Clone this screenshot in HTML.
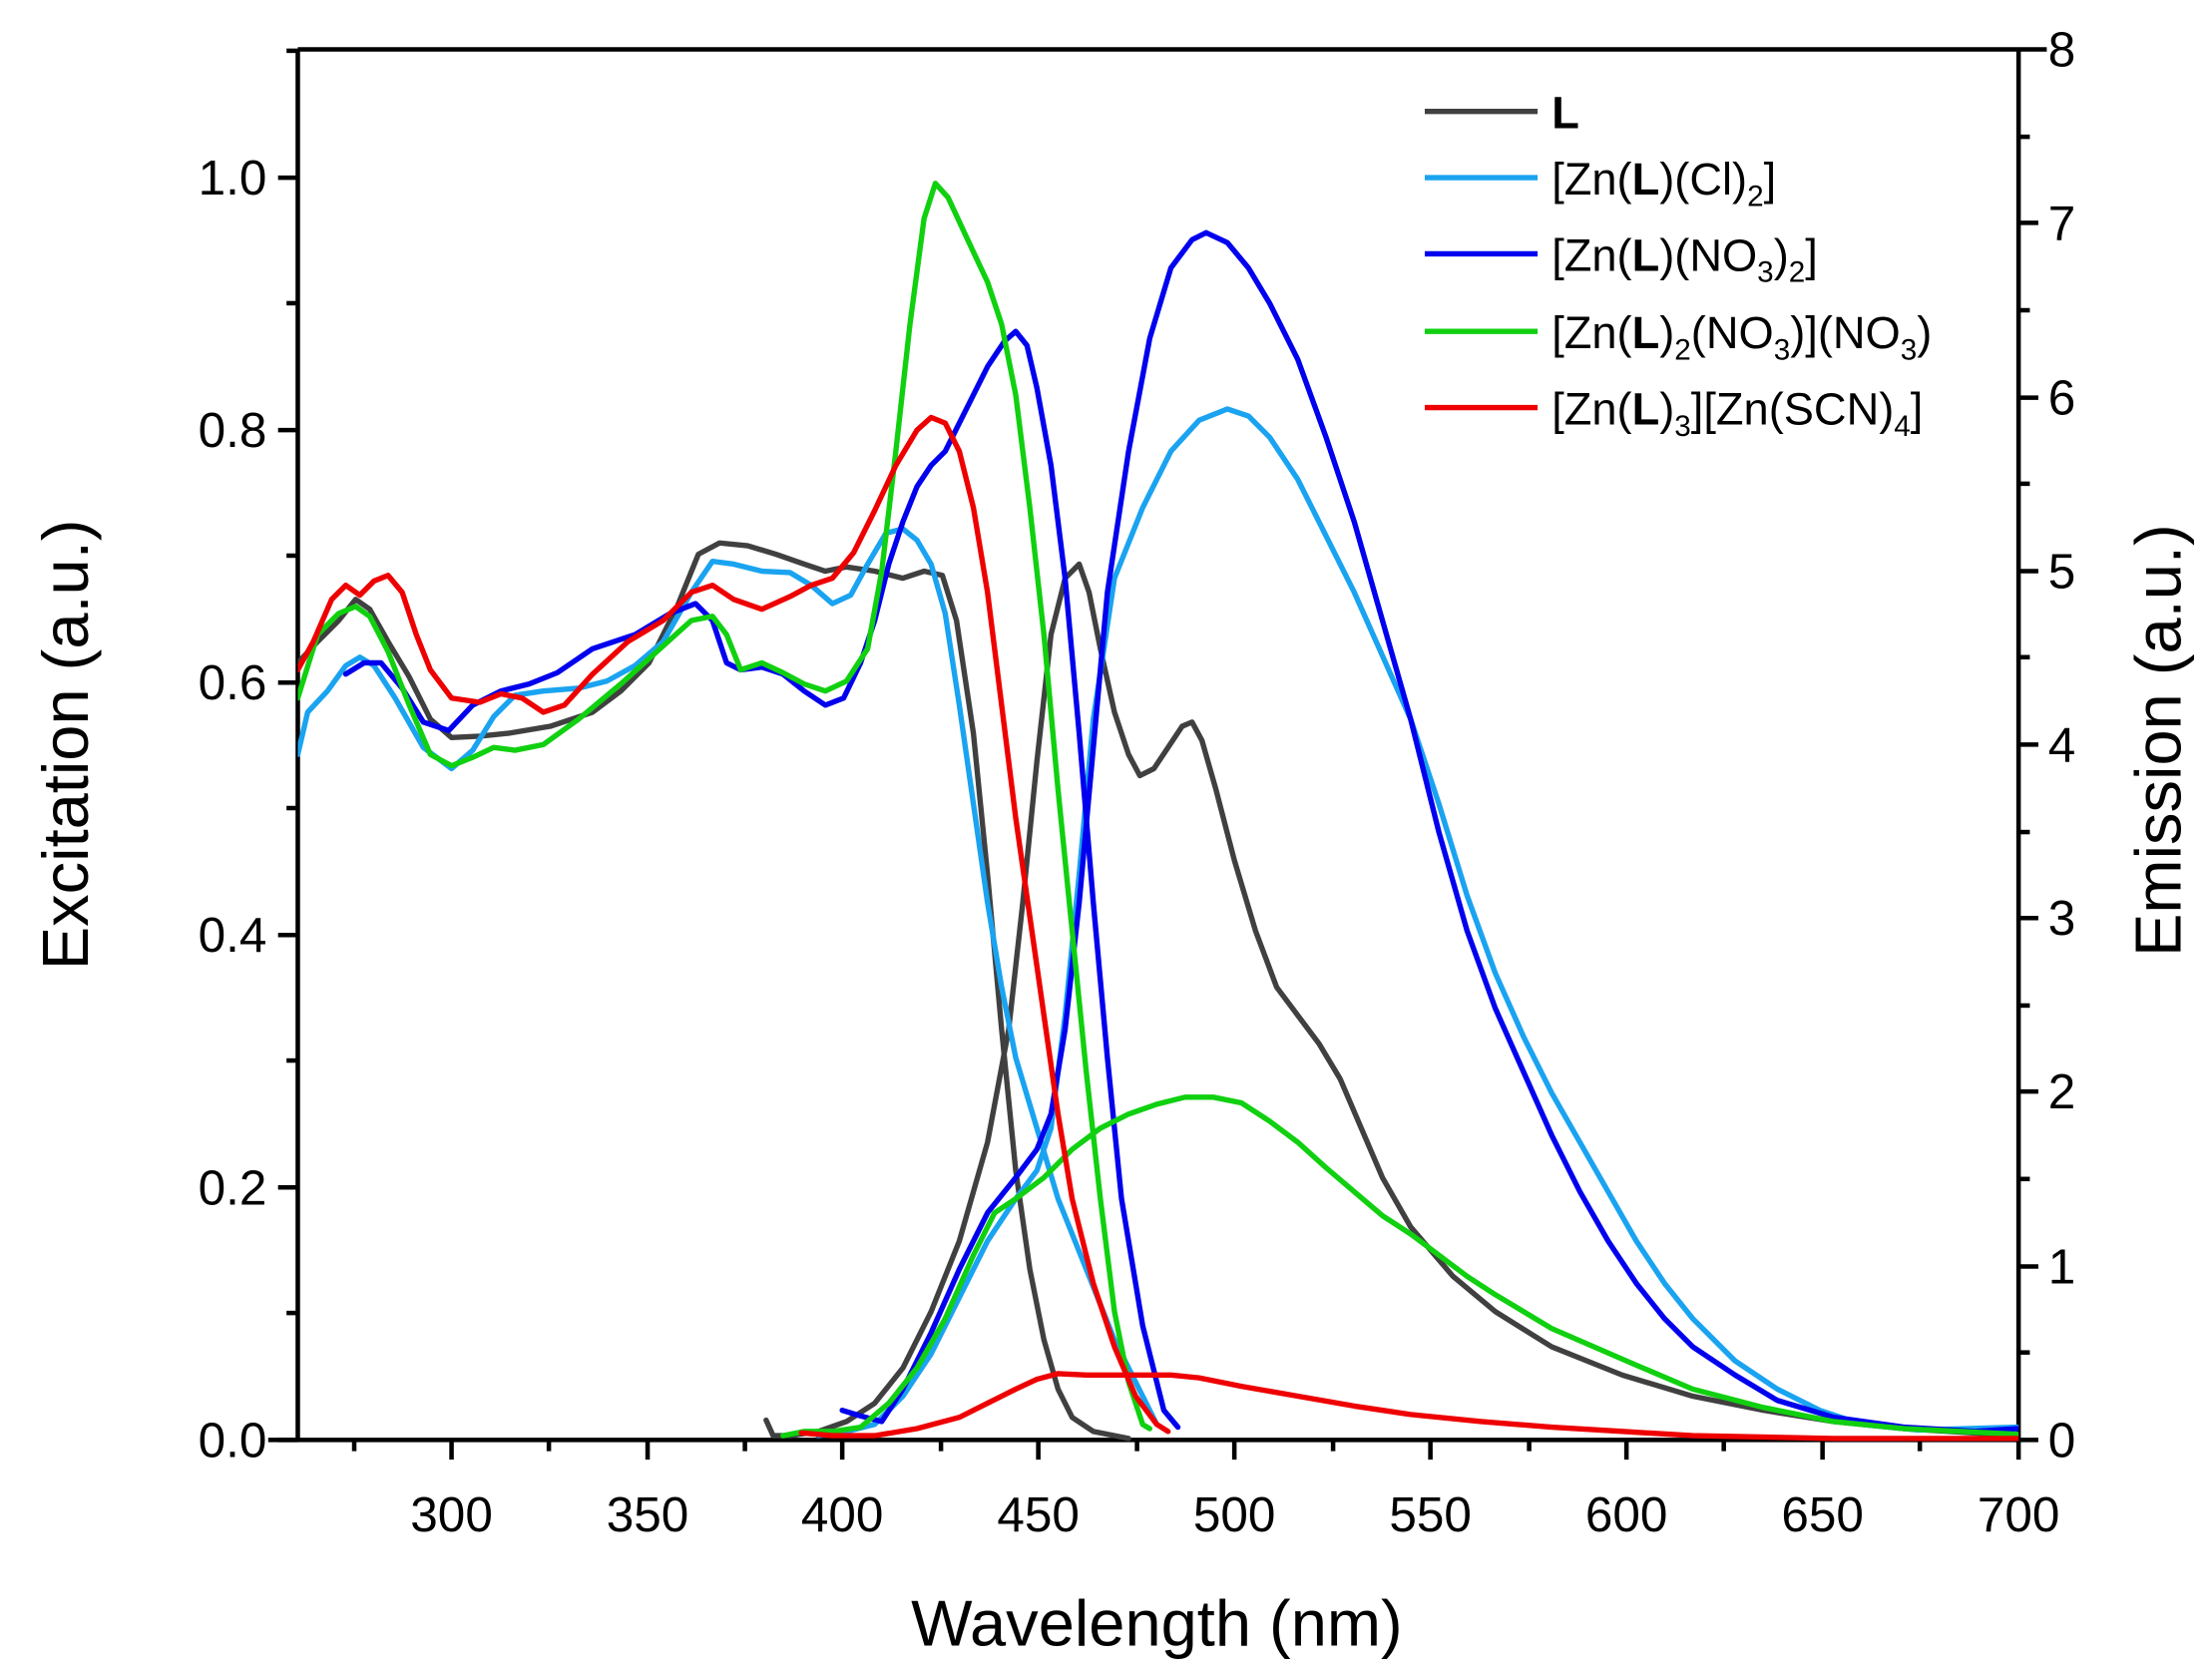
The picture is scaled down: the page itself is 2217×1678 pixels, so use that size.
<!DOCTYPE html>
<html><head><meta charset="utf-8"><style>
html,body{margin:0;padding:0;background:#fff;}
svg{display:block;}
text{font-family:"Liberation Sans",Arial,sans-serif;fill:#000;}
</style></head><body>
<svg width="2217" height="1678" viewBox="0 0 1568 1187" xmlns="http://www.w3.org/2000/svg">
<defs><clipPath id="c"><rect x="211" y="30" width="1220" height="992"/></clipPath></defs>
<g fill="none" stroke="#000" stroke-width="3.2">
<line x1="190" y1="1021" x2="1432" y2="1021"/>
<line x1="211" y1="35" x2="211" y2="1021"/>
<line x1="211" y1="35" x2="1451" y2="35"/>
<line x1="1431" y1="35" x2="1431" y2="1021"/>
<line x1="320" y1="1021" x2="320" y2="1035"/><line x1="459" y1="1021" x2="459" y2="1035"/><line x1="597" y1="1021" x2="597" y2="1035"/><line x1="736" y1="1021" x2="736" y2="1035"/><line x1="875" y1="1021" x2="875" y2="1035"/><line x1="1014" y1="1021" x2="1014" y2="1035"/><line x1="1153" y1="1021" x2="1153" y2="1035"/><line x1="1292" y1="1021" x2="1292" y2="1035"/><line x1="1431" y1="1021" x2="1431" y2="1035"/>
<line x1="251" y1="1021" x2="251" y2="1029"/><line x1="389" y1="1021" x2="389" y2="1029"/><line x1="528" y1="1021" x2="528" y2="1029"/><line x1="667" y1="1021" x2="667" y2="1029"/><line x1="806" y1="1021" x2="806" y2="1029"/><line x1="945" y1="1021" x2="945" y2="1029"/><line x1="1084" y1="1021" x2="1084" y2="1029"/><line x1="1222" y1="1021" x2="1222" y2="1029"/><line x1="1361" y1="1021" x2="1361" y2="1029"/>
<line x1="197" y1="1021" x2="211" y2="1021"/><line x1="197" y1="842" x2="211" y2="842"/><line x1="197" y1="663" x2="211" y2="663"/><line x1="197" y1="484" x2="211" y2="484"/><line x1="197" y1="305" x2="211" y2="305"/><line x1="197" y1="126" x2="211" y2="126"/>
<line x1="203" y1="931" x2="211" y2="931"/><line x1="203" y1="752" x2="211" y2="752"/><line x1="203" y1="573" x2="211" y2="573"/><line x1="203" y1="394" x2="211" y2="394"/><line x1="203" y1="215" x2="211" y2="215"/><line x1="203" y1="36" x2="211" y2="36"/>
<line x1="1431" y1="1021" x2="1445" y2="1021"/><line x1="1431" y1="898" x2="1445" y2="898"/><line x1="1431" y1="774" x2="1445" y2="774"/><line x1="1431" y1="651" x2="1445" y2="651"/><line x1="1431" y1="528" x2="1445" y2="528"/><line x1="1431" y1="405" x2="1445" y2="405"/><line x1="1431" y1="282" x2="1445" y2="282"/><line x1="1431" y1="158" x2="1445" y2="158"/>
<line x1="1431" y1="959" x2="1439" y2="959"/><line x1="1431" y1="836" x2="1439" y2="836"/><line x1="1431" y1="713" x2="1439" y2="713"/><line x1="1431" y1="590" x2="1439" y2="590"/><line x1="1431" y1="466" x2="1439" y2="466"/><line x1="1431" y1="343" x2="1439" y2="343"/><line x1="1431" y1="220" x2="1439" y2="220"/><line x1="1431" y1="97" x2="1439" y2="97"/>
</g>
<g font-size="35" text-anchor="middle">
<text x="320" y="1086">300</text><text x="459" y="1086">350</text><text x="597" y="1086">400</text><text x="736" y="1086">450</text><text x="875" y="1086">500</text><text x="1014" y="1086">550</text><text x="1153" y="1086">600</text><text x="1292" y="1086">650</text><text x="1431" y="1086">700</text>
</g>
<g font-size="35" text-anchor="end">
<text x="189" y="1033">0.0</text><text x="189" y="854">0.2</text><text x="189" y="675">0.4</text><text x="189" y="496">0.6</text><text x="189" y="317">0.8</text><text x="189" y="138">1.0</text>
</g>
<g font-size="35">
<text x="1452" y="1033">0</text><text x="1452" y="910">1</text><text x="1452" y="786">2</text><text x="1452" y="663">3</text><text x="1452" y="540">4</text><text x="1452" y="417">5</text><text x="1452" y="294">6</text><text x="1452" y="170">7</text><text x="1452" y="47">8</text>
</g>
<text x="820" y="1167" font-size="46" text-anchor="middle">Wavelength (nm)</text>
<text transform="translate(62,528) rotate(-90)" font-size="46" text-anchor="middle">Excitation (a.u.)</text>
<text transform="translate(1546,525) rotate(-90)" font-size="46" text-anchor="middle">Emission (a.u.)</text>

<g clip-path="url(#c)" fill="none" stroke-width="3.8" stroke-linejoin="round" stroke-linecap="round">
<polyline stroke="#404040" points="211,470 225,455 240,440 252,425 262,432 275,455 290,480 305,510 320,523 340,522 360,520 390,515 420,505 440,490 460,470 480,430 495,393 510,385 530,387 550,393 570,400 585,405 600,402 620,405 640,410 655,405 668,408 678,440 690,520 700,620 710,730 720,830 730,900 740,950 750,985 760,1005 775,1015 800,1020"/>
<polyline stroke="#404040" points="543,1007 548,1018 560,1018 580,1015 600,1008 620,995 640,970 660,930 680,880 700,810 715,730 725,640 735,540 745,450 755,410 765,400 772,420 780,460 790,505 800,535 808,550 818,545 828,530 838,515 845,512 852,525 862,560 875,610 890,660 905,700 920,720 935,740 950,765 965,800 980,835 1000,870 1030,905 1060,930 1100,955 1150,975 1200,990 1250,1000 1300,1008 1350,1013 1430,1018"/>
<polyline stroke="#1aa3f0" points="211,535 218,505 232,490 245,472 255,466 265,472 280,495 300,530 320,545 335,532 350,508 365,493 385,490 410,488 430,483 450,472 470,455 490,420 505,398 520,400 540,405 560,406 575,415 590,428 603,422 615,400 628,378 640,375 650,383 660,400 670,435 680,500 690,570 700,640 710,700 720,750 735,800 750,850 770,900 790,950 810,990 820,1010"/>
<polyline stroke="#1aa3f0" points="580,1018 600,1015 620,1010 640,990 660,960 680,920 700,880 720,850 735,830 745,800 755,720 765,620 775,510 790,410 810,360 830,320 850,298 870,290 885,295 900,310 920,340 940,380 960,420 980,465 1000,510 1020,570 1040,635 1060,690 1080,735 1100,775 1120,810 1140,845 1160,880 1180,910 1200,935 1230,965 1260,985 1290,1000 1320,1010 1360,1014 1430,1012"/>
<polyline stroke="#0000ee" points="245,478 258,470 270,470 285,488 300,512 318,518 335,500 355,490 375,485 395,477 420,460 450,450 475,435 493,428 505,440 515,470 525,475 540,473 555,478 570,490 585,500 598,495 610,470 620,440 630,400 640,370 650,345 660,330 670,320 680,300 690,280 700,260 712,242 720,235 728,245 735,275 745,330 755,410 765,520 775,640 785,750 795,850 810,940 825,1000 835,1012"/>
<polyline stroke="#0000ee" points="597,1000 610,1004 625,1008 640,985 660,945 680,900 700,860 720,835 735,815 745,790 755,730 765,640 775,530 785,420 800,320 815,240 830,190 845,170 855,165 870,172 885,190 900,215 920,255 940,310 960,370 980,440 1000,510 1020,590 1040,660 1060,715 1080,760 1100,805 1120,845 1140,880 1160,910 1180,935 1200,955 1230,975 1260,993 1300,1005 1350,1012 1400,1015 1430,1013"/>
<polyline stroke="#10d010" points="211,495 225,450 240,435 252,430 262,437 275,462 290,500 305,535 320,543 335,537 350,530 365,532 385,528 410,510 440,485 470,458 490,440 505,437 515,450 525,475 540,470 555,477 570,485 585,490 600,483 615,460 625,405 635,320 645,230 655,155 663,130 672,140 685,168 700,200 710,230 720,280 730,360 740,450 750,560 760,660 770,760 780,850 790,930 800,980 810,1010 815,1013"/>
<polyline stroke="#10d010" points="555,1018 570,1015 590,1015 610,1012 630,995 650,970 670,935 690,890 705,860 720,850 740,835 760,815 780,800 800,790 820,783 840,778 860,778 880,782 900,795 920,810 940,828 960,845 980,862 1000,875 1020,890 1040,905 1060,918 1080,930 1100,942 1130,955 1160,968 1200,985 1250,998 1300,1008 1350,1013 1430,1017"/>
<polyline stroke="#ee0000" points="211,475 222,455 235,425 245,415 255,422 265,412 275,408 285,420 295,450 305,475 320,495 340,498 355,492 370,495 385,505 400,500 420,478 445,455 470,440 490,420 505,415 520,425 540,432 560,423 575,415 590,410 605,392 620,362 635,330 650,305 660,296 670,300 680,320 690,360 700,420 710,500 720,580 730,650 740,720 750,790 760,850 775,910 790,955 805,990 820,1010 828,1015"/>
<polyline stroke="#ee0000" points="568,1016 590,1018 620,1018 650,1013 680,1005 700,995 720,985 735,978 750,974 770,975 800,975 830,975 850,977 880,983 920,990 960,997 1000,1003 1050,1008 1100,1012 1150,1015 1200,1018 1300,1020 1430,1020"/>
</g>

<g stroke-width="3.8">
<line x1="1010" y1="79" x2="1090" y2="79" stroke="#404040"/>
<line x1="1010" y1="126" x2="1090" y2="126" stroke="#1aa3f0"/>
<line x1="1010" y1="180" x2="1090" y2="180" stroke="#0000ee"/>
<line x1="1010" y1="235" x2="1090" y2="235" stroke="#10d010"/>
<line x1="1010" y1="289" x2="1090" y2="289" stroke="#ee0000"/>
</g>
<g font-size="32">
<text x="1100" y="91" font-weight="bold">L</text>
<text x="1100" y="138">[Zn(<tspan font-weight="bold">L</tspan>)(Cl)<tspan font-size="21" dy="8">2</tspan><tspan dy="-8">]</tspan></text>
<text x="1100" y="192">[Zn(<tspan font-weight="bold">L</tspan>)(NO<tspan font-size="21" dy="8">3</tspan><tspan dy="-8">)</tspan><tspan font-size="21" dy="8">2</tspan><tspan dy="-8">]</tspan></text>
<text x="1100" y="247">[Zn(<tspan font-weight="bold">L</tspan>)<tspan font-size="21" dy="8">2</tspan><tspan dy="-8">(NO</tspan><tspan font-size="21" dy="8">3</tspan><tspan dy="-8">)](NO</tspan><tspan font-size="21" dy="8">3</tspan><tspan dy="-8">)</tspan></text>
<text x="1100" y="301">[Zn(<tspan font-weight="bold">L</tspan>)<tspan font-size="21" dy="8">3</tspan><tspan dy="-8">][Zn(SCN)</tspan><tspan font-size="21" dy="8">4</tspan><tspan dy="-8">]</tspan></text>
</g>
</svg>
</body></html>
